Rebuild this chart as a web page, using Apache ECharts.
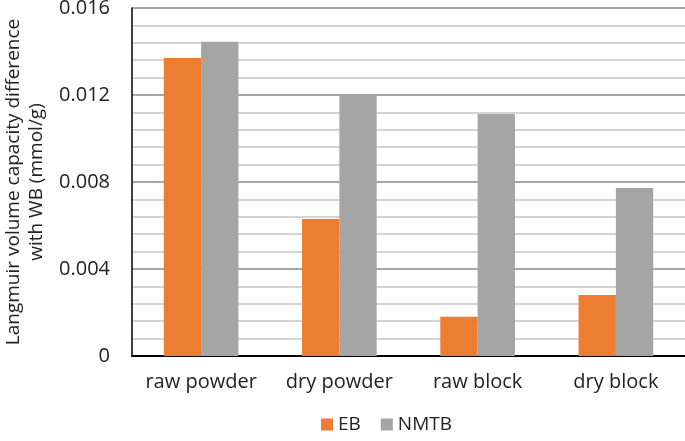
<!DOCTYPE html>
<html><head><meta charset="utf-8">
<script src="https://cdn.jsdelivr.net/npm/echarts@6/dist/echarts.min.js"></script>
<style>html,body{margin:0;padding:0;background:#fff}#c{width:685px;height:441px}</style>
</head><body><div id="c"></div>
<script>
const categories = ['raw powder', 'dry powder', 'raw block', 'dry block'];
const ebValues = [0.0137, 0.0063, 0.0018, 0.0028];
const nmtbValues = [0.01445, 0.0120, 0.01113, 0.00772];
const yTickLabels = ['0', '0.004', '0.008', '0.012', '0.016'];

const font = '"Open Sans", sans-serif';
const chart = echarts.init(document.getElementById('c'));
chart.setOption({
  animation: false,
  textStyle: { fontFamily: font },
  grid: { left: 132, right: 0, top: 8, bottom: 85, containLabel: false, outerBoundsMode: 'none' },
  legend: {
    bottom: 2, left: 316, itemWidth: 12, itemHeight: 12, itemGap: 20,
    textStyle: { fontSize: 19, color: '#222', fontFamily: font },
    icon: 'rect',
    data: ['EB', 'NMTB']
  },
  xAxis: {
    type: 'category', data: categories,
    axisLine: { lineStyle: { color: '#000', width: 2 } },
    axisTick: { show: false },
    axisLabel: { fontSize: 20, color: '#222', margin: 16, fontFamily: font, interval: 0 }
  },
  yAxis: {
    type: 'value', min: 0, max: 0.016, interval: 0.004,
    name: 'Langmuir volume capacity difference\nwith WB (mmol/g)',
    nameLocation: 'middle', nameRotate: 90, nameGap: 81,
    nameTextStyle: { fontSize: 19, color: '#222', lineHeight: 23, fontFamily: font },
    axisLine: { show: true, lineStyle: { color: '#000', width: 1.5 } },
    axisTick: { show: false },
    axisLabel: {
      fontSize: 20, color: '#222', margin: 22, fontFamily: font,
      formatter: (v) => yTickLabels[Math.round(v / 0.004)]
    },
    splitLine: { lineStyle: { color: '#a6a6a6', width: 2 } },
    minorTick: { show: false, splitNumber: 5 },
    minorSplitLine: { show: true, lineStyle: { color: '#d4d4d4', width: 2 } }
  },
  series: [
    { name: 'EB', type: 'bar', data: ebValues, barGap: '0%', barCategoryGap: '46%',
      itemStyle: { color: '#ED7D31' } },
    { name: 'NMTB', type: 'bar', data: nmtbValues, barGap: '0%', barCategoryGap: '46%',
      itemStyle: { color: '#A5A5A5' } }
  ]
});
</script></body></html>
